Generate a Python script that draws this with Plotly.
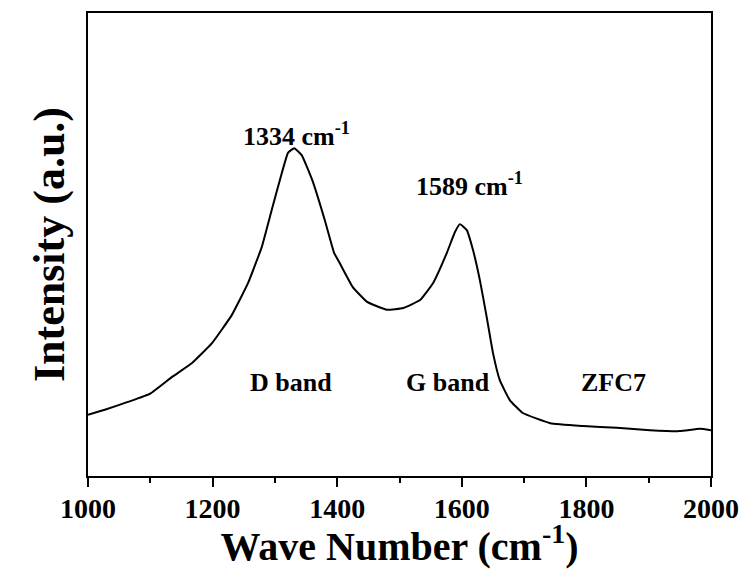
import plotly.graph_objects as go

wavenumber = [1000, 1027, 1064, 1100, 1135, 1167, 1199, 1231, 1257, 1279, 1295, 1311,
              1321, 1331, 1343, 1360, 1380, 1395, 1404, 1425, 1448, 1480, 1506, 1533,
              1554, 1576, 1589, 1597, 1608, 1618, 1629, 1640, 1650, 1661, 1677, 1698,
              1742, 1795, 1849, 1902, 1950, 1982, 2000]
intensity = [132, 143, 160, 178, 214, 244, 287, 348, 417, 495, 575, 654,
             698, 708, 693, 639, 553, 482, 460, 408, 376, 359, 363, 380,
             417, 482, 527, 544, 531, 488, 423, 343, 266, 207, 164, 136,
             114, 108, 104, 99, 97, 102, 99]

labels = ["1334 cm<sup>-1</sup>", "1589 cm<sup>-1</sup>", "D band", "G band", "ZFC7"]
label_x = [1334, 1613, 1326, 1578, 1844]
label_y = [737, 629, 203, 203, 203]

FONT = "Liberation Serif, Times New Roman, serif"

fig = go.Figure()
fig.add_trace(go.Scatter(x=wavenumber, y=intensity, mode="lines",
                         line=dict(color="black", width=2, shape="spline", smoothing=0.35),
                         showlegend=False, hoverinfo="skip"))

for t, x, y in zip(labels, label_x, label_y):
    fig.add_annotation(x=x, y=y, text="<b>" + t + "</b>", showarrow=False,
                       font=dict(family=FONT, size=26, color="black"),
                       xanchor="center", yanchor="middle")

fig.update_layout(
    width=748, height=569,
    margin=dict(l=88, r=37, t=13, b=93),
    paper_bgcolor="white", plot_bgcolor="white",
    font=dict(family=FONT, color="black"),
)
fig.update_xaxes(
    range=[1000, 2000], tickmode="array", tickvals=[1000, 1200, 1400, 1600, 1800, 2000],
    ticktext=["<b>%d</b>" % v for v in [1000, 1200, 1400, 1600, 1800, 2000]],
    ticks="outside", ticklen=9, tickwidth=2, tickcolor="black",
    minor=dict(ticks="outside", ticklen=5, tickwidth=2, tickcolor="black",
               tickvals=[1100, 1300, 1500, 1700, 1900]),
    showline=True, linecolor="black", linewidth=2, mirror=True,
    showgrid=False, zeroline=False, automargin=False, ticklabelstandoff=-3,
    tickfont=dict(family=FONT, size=28, color="black"),
    title=dict(text="<b>Wave Number (cm<sup>-1</sup>)</b>",
               font=dict(family=FONT, size=40, color="black"), standoff=4),
)
fig.update_yaxes(
    range=[0, 1000], showticklabels=False, ticks="",
    showline=True, linecolor="black", linewidth=2, mirror=True,
    showgrid=False, zeroline=False, automargin=False,
    title=dict(text="<b>Intensity (a.u.)</b>",
               font=dict(family=FONT, size=44, color="black"), standoff=8),
)

fig.write_html("out.html", config={"displayModeBar": False},
               post_script="document.body.style.margin='0';document.body.style.padding='0';")
